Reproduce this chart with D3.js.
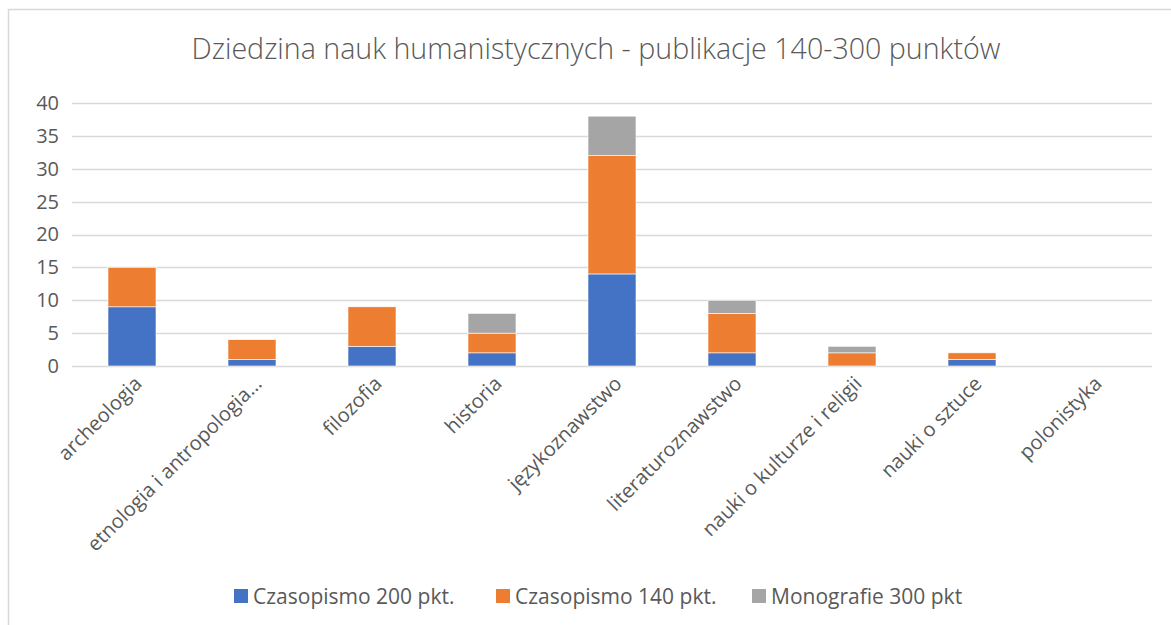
<!DOCTYPE html>
<html>
<head>
<meta charset="utf-8">
<script src="https://cdn.jsdelivr.net/npm/d3@7"></script>
<style>
  body { margin: 0; background: #fff; }
  text { font-family: "Open Sans", "Segoe UI", sans-serif; fill: #595959; }
</style>
</head>
<body>
<div class="chart"></div>
<script>
var categories = ["archeologia", "etnologia i antropologia…", "filozofia", "historia", "językoznawstwo",
  "literaturoznawstwo", "nauki o kulturze i religii", "nauki o sztuce", "polonistyka"];
var seriesNames = ["Czasopismo 200 pkt.", "Czasopismo 140 pkt.", "Monografie 300 pkt"];
var czas200 = [9, 1, 3, 2, 14, 2, 0, 1, 0];
var czas140 = [6, 3, 6, 3, 18, 6, 2, 1, 0];
var mono300 = [0, 0, 0, 3, 6, 2, 1, 0, 0];
var yTicks = [0, 5, 10, 15, 20, 25, 30, 35, 40];
var colors = ["#4472C4", "#ED7D31", "#A5A5A5"];

var W = 1171, H = 625;
var margin = {top: 103, right: 19, bottom: 259, left: 72};
var width = W - margin.left - margin.right,
    height = H - margin.top - margin.bottom;

var svg = d3.select(".chart").append("svg")
    .attr("width", W)
    .attr("height", H);

// chart area border
svg.append("rect")
    .attr("x", 8.5).attr("y", 9.5)
    .attr("width", W + 20).attr("height", H + 20)
    .attr("fill", "#fff")
    .attr("stroke", "#D9D9D9")
    .attr("stroke-width", 1.5);

svg.append("text")
    .attr("x", 596)
    .attr("y", 59)
    .attr("text-anchor", "middle")
    .attr("font-size", 28.6)
    .attr("font-weight", 300)
    .text("Dziedzina nauk humanistycznych - publikacje 140-300 punktów");

var g = svg.append("g")
    .attr("transform", "translate(" + margin.left + "," + margin.top + ")");

var x = d3.scaleBand()
    .domain(categories)
    .range([0, categories.length * 120])
    .paddingInner(0.6)
    .paddingOuter(0.3);

var y = d3.scaleLinear()
    .domain([0, 40])
    .range([height, 0]);

// gridlines
g.append("g")
    .selectAll("line")
    .data(yTicks)
    .enter().append("line")
      .attr("x1", 0)
      .attr("x2", categories.length * 120)
      .attr("y1", function(d) { return Math.round(y(d)) + 0.5; })
      .attr("y2", function(d) { return Math.round(y(d)) + 0.5; })
      .attr("stroke", "#D9D9D9")
      .attr("stroke-width", 1.5);

// y axis labels
var yAxis = g.append("g")
    .call(d3.axisLeft(y).tickValues(yTicks).tickSize(0).tickPadding(13));
yAxis.select(".domain").remove();
yAxis.selectAll("text")
    .attr("font-size", 20)
    .attr("font-family", null)
    .attr("fill", "#595959");

// stacked bars
var rows = categories.map(function(c, i) {
  return {cat: c, s0: czas200[i], s1: czas140[i], s2: mono300[i]};
});
var stack = d3.stack().keys(["s0", "s1", "s2"]);
var layers = stack(rows);

g.selectAll(".layer")
    .data(layers)
    .enter().append("g")
      .attr("class", "layer")
      .attr("fill", function(d, i) { return colors[i]; })
    .selectAll("rect")
    .data(function(d) { return d.filter(function(p) { return p[1] > p[0]; }); })
    .enter().append("rect")
      .attr("x", function(d) { return x(d.data.cat); })
      .attr("width", x.bandwidth())
      .attr("y", function(d) { return y(d[1]); })
      .attr("height", function(d) { return y(d[0]) - y(d[1]); })
      .attr("stroke", "#fff")
      .attr("stroke-width", 0.6);

// x axis labels
var xAxis = g.append("g")
    .attr("transform", "translate(0," + height + ")")
    .call(d3.axisBottom(x).tickSize(0).tickPadding(0));
xAxis.select(".domain").remove();
xAxis.selectAll("text")
    .attr("font-size", 20)
    .attr("font-family", null)
    .attr("fill", "#595959")
    .attr("text-anchor", "end")
    .attr("dy", null)
    .attr("y", 0)
    .attr("transform", "translate(11,19) rotate(-45)");

// legend
var legendX = [234, 496, 752];
var legend = svg.append("g")
    .selectAll("g")
    .data(seriesNames)
    .enter().append("g")
      .attr("transform", function(d, i) { return "translate(" + legendX[i] + ",589)"; });
legend.append("rect")
    .attr("width", 14).attr("height", 14)
    .attr("fill", function(d, i) { return colors[i]; });
legend.append("text")
    .attr("x", 19)
    .attr("y", 15)
    .attr("font-size", 21)
    .text(function(d) { return d; });
</script>
</body>
</html>
